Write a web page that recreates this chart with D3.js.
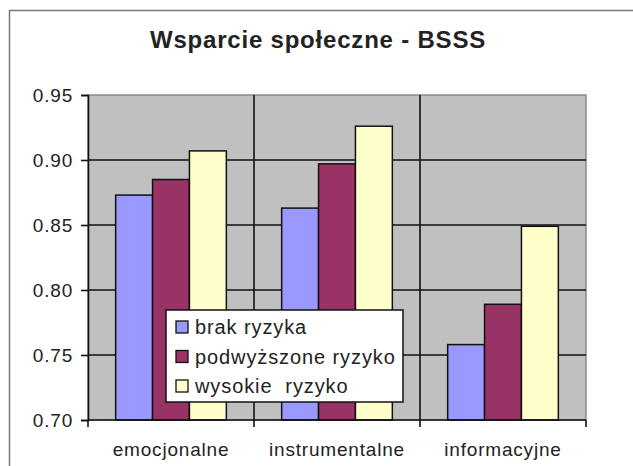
<!DOCTYPE html>
<html>
<head>
<meta charset="utf-8">
<script src="https://cdn.jsdelivr.net/npm/d3@7"></script>
<style>
  body { margin: 0; background: #fff; }
  text { font-family: Arial, "Liberation Sans", sans-serif; fill: #222; white-space: pre; }
</style>
</head>
<body>
<div id="chart"></div>
<script>
// data
var categories = ["emocjonalne", "instrumentalne", "informacyjne"];
var seriesNames = ["brak ryzyka", "podwyższone ryzyko", "wysokie  ryzyko"];
var brak = [0.873, 0.863, 0.758];
var podwyzszone = [0.885, 0.897, 0.789];
var wysokie = [0.907, 0.926, 0.849];
var yTicks = [0.70, 0.75, 0.80, 0.85, 0.90, 0.95];

var seriesValues = [brak, podwyzszone, wysokie];
var colors = ["#9999ff", "#993366", "#ffffcc"];

var W = 633, H = 466;
// plot box (don't call it "top", that one is taken by window)
var pl = 88, pt = 95, pr = 586, pb = 420;

var svg = d3.select("#chart").append("svg")
    .attr("width", W)
    .attr("height", H);

// outer chart frame (runs off the picture on the right and bottom)
svg.append("rect")
  .attr("x", 9.5).attr("y", 10.5)
  .attr("width", W + 20).attr("height", H + 20)
  .attr("fill", "#fff")
  .attr("stroke", "#777").attr("stroke-width", 1.5);

svg.append("text")
  .attr("x", 318).attr("y", 48)
  .attr("text-anchor", "middle")
  .style("font-size", "24px").style("font-weight", "bold")
  .style("letter-spacing", "0.8px")
  .text("Wsparcie społeczne - BSSS");

var x0 = d3.scaleBand().domain(categories).range([pl, pr]);
// gap width 150% -> 0.75 bar width each side
var x1 = d3.scaleBand().domain(d3.range(3))
    .range([0, x0.bandwidth()])
    .paddingOuter(0.75).paddingInner(0);
var y = d3.scaleLinear().domain([0.70, 0.95]).range([pb, pt]);

// plot area
svg.append("rect")
  .attr("x", pl).attr("y", pt)
  .attr("width", pr - pl).attr("height", pb - pt)
  .attr("fill", "#c0c0c0")
  .attr("stroke", "#8a8a8a").attr("stroke-width", 1.5);

// gridlines
svg.append("g").selectAll("line")
  .data(yTicks.slice(1, 5))
  .join("line")
  .attr("x1", pl).attr("x2", pr)
  .attr("y1", d => y(d)).attr("y2", d => y(d))
  .attr("stroke", "#111").attr("stroke-width", 1.6);

svg.append("g").selectAll("line")
  .data(categories.slice(1))
  .join("line")
  .attr("x1", d => x0(d)).attr("x2", d => x0(d))
  .attr("y1", pt).attr("y2", pb)
  .attr("stroke", "#111").attr("stroke-width", 1.6);

// bars
var groups = svg.append("g").selectAll("g")
  .data(categories)
  .join("g")
  .attr("transform", d => "translate(" + x0(d) + ",0)");

groups.selectAll("rect")
  .data((c, i) => seriesValues.map((s, k) => ({ k: k, v: s[i] })))
  .join("rect")
  .attr("x", d => x1(d.k))
  .attr("width", x1.bandwidth())
  .attr("y", d => y(d.v))
  .attr("height", d => pb - y(d.v))
  .attr("fill", d => colors[d.k])
  .attr("stroke", "#111").attr("stroke-width", 1.5);

// y axis
var yAxis = d3.axisLeft(y).tickValues(yTicks).tickFormat(d3.format(".2f"))
  .tickSize(7).tickPadding(8);
var gy = svg.append("g").attr("transform", "translate(" + pl + ",0)").call(yAxis);
gy.select(".domain").attr("stroke", "#111").attr("stroke-width", 1.6);
gy.selectAll(".tick line").attr("stroke", "#111").attr("stroke-width", 1.6);
gy.selectAll("text")
  .style("font-size", "19px").style("letter-spacing", "0.8px")
  .attr("fill", "#222");

// x axis, ticks at category boundaries
svg.append("line")
  .attr("x1", pl).attr("x2", pr)
  .attr("y1", pb).attr("y2", pb)
  .attr("stroke", "#111").attr("stroke-width", 1.6);
svg.append("g").selectAll("line")
  .data(categories.concat(["end"]))
  .join("line")
  .attr("x1", (d, i) => i < 3 ? x0(d) : pr)
  .attr("x2", (d, i) => i < 3 ? x0(d) : pr)
  .attr("y1", pb).attr("y2", pb + 7)
  .attr("stroke", "#111").attr("stroke-width", 1.6);

svg.append("g").selectAll("text")
  .data(categories)
  .join("text")
  .attr("x", d => x0(d) + x0.bandwidth() / 2)
  .attr("y", 456)
  .attr("text-anchor", "middle")
  .style("font-size", "19px").style("letter-spacing", "0.8px")
  .text(d => d);

// legend
var lg = svg.append("g").attr("transform", "translate(166,310)");
lg.append("rect")
  .attr("width", 237).attr("height", 92)
  .attr("fill", "#fff")
  .attr("stroke", "#111").attr("stroke-width", 1.5);
var items = lg.selectAll("g.item")
  .data(seriesNames)
  .join("g")
  .attr("class", "item")
  .attr("transform", (d, i) => "translate(0," + (17 + i * 29.5) + ")");
items.append("rect")
  .attr("x", 10).attr("y", -6)
  .attr("width", 12).attr("height", 12)
  .attr("fill", (d, i) => colors[i])
  .attr("stroke", "#111").attr("stroke-width", 1.3);
items.append("text")
  .attr("x", 29).attr("y", 7)
  .style("font-size", "20px").style("letter-spacing", "0.9px")
  .text(d => d);
</script>
</body>
</html>
